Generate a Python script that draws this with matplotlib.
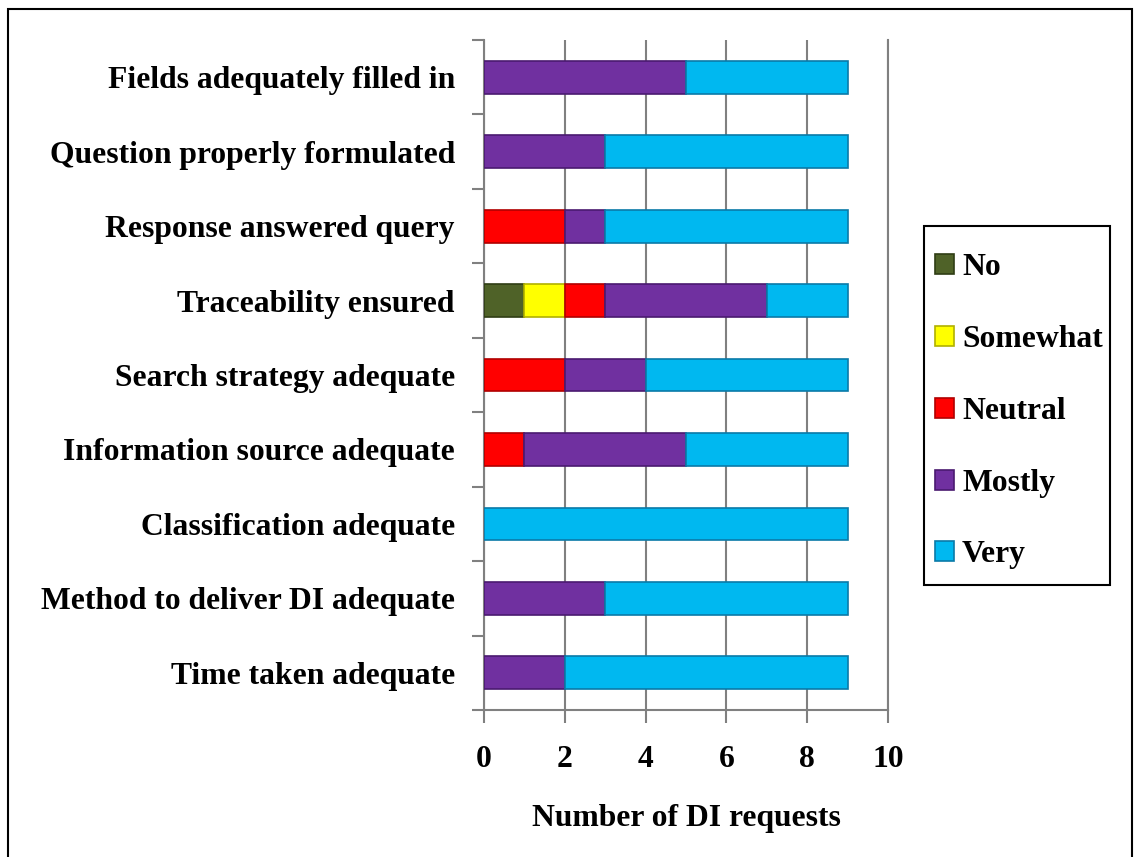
import numpy as np
import matplotlib
matplotlib.use("Agg")
import matplotlib.pyplot as plt
from matplotlib.patches import Rectangle

plt.rcParams["font.family"] = ["Liberation Serif", "DejaVu Serif"]
plt.rcParams["font.weight"] = "bold"

categories = [
    "Fields adequately filled in",
    "Question properly formulated",
    "Response answered query",
    "Traceability ensured",
    "Search strategy adequate",
    "Information source adequate",
    "Classification adequate",
    "Method to deliver DI adequate",
    "Time taken adequate",
]
levels = ["No", "Somewhat", "Neutral", "Mostly", "Very"]
no       = [0, 0, 0, 1, 0, 0, 0, 0, 0]
somewhat = [0, 0, 0, 1, 0, 0, 0, 0, 0]
neutral  = [0, 0, 2, 1, 2, 1, 0, 0, 0]
mostly   = [5, 3, 1, 4, 2, 4, 0, 3, 2]
very     = [4, 6, 6, 2, 5, 4, 9, 6, 7]
x_ticks = [0, 2, 4, 6, 8, 10]

series = [no, somewhat, neutral, mostly, very]
colors = ["#4f6228", "#ffff00", "#ff0000", "#7030a0", "#00b8f0"]
edges = ["#2f3d14", "#b0b000", "#b00000", "#4a1a70", "#0a7aa8"]

FS = 22.8

fig = plt.figure(figsize=(11.38, 8.57), dpi=100)
ax = fig.add_axes([0.4253, 0.1715, 0.3550, 0.7818])

y = np.arange(len(categories))[::-1]
left = np.zeros(len(categories))
for vals, lab, c, ec in zip(series, levels, colors, edges):
    vals = np.array(vals, dtype=float)
    ax.barh(y, vals, left=left, height=0.44, color=c, edgecolor=ec,
            linewidth=1.2, label=lab, zorder=3)
    left += vals

ax.set_xlim(0, 10)
ax.set_ylim(-0.5, len(categories) - 0.5)
ax.set_xticks(x_ticks)
ax.set_xticklabels([str(t) for t in x_ticks], fontsize=FS, fontweight="bold")
ax.set_yticks(y)
ax.set_yticklabels(categories, fontsize=FS, fontweight="bold")
ax.set_yticks(np.arange(len(categories) + 1) - 0.5, minor=True)
ax.tick_params(axis="y", which="major", length=0, pad=21)
ax.tick_params(axis="y", which="minor", length=9, color="#808080", width=1.5)
ax.tick_params(axis="x", length=9, color="#808080", width=1.5, pad=16)

ax.grid(axis="x", color="#808080", linewidth=1.5, zorder=0)
for side in ["left", "bottom", "right"]:
    ax.spines[side].set_color("#808080")
    ax.spines[side].set_linewidth(1.5)
ax.spines["top"].set_visible(False)

ax.set_xlabel("Number of DI requests", fontsize=FS, fontweight="bold", labelpad=22)

# legend box drawn separately so its size matches the original
box_x, box_y, box_w, box_h = 0.812, 0.3174, 0.1634, 0.4189
handles, labels = ax.get_legend_handles_labels()
leg = fig.legend(handles, labels, loc="center left",
                 bbox_to_anchor=(box_x, box_y + box_h / 2 - 0.007),
                 borderaxespad=0, frameon=False, borderpad=0.35,
                 labelspacing=1.35, handlelength=0.6, handleheight=0.6,
                 handletextpad=0.25, prop={"weight": "bold", "size": FS})
fig.patches.append(Rectangle((box_x, box_y), box_w, box_h, transform=fig.transFigure,
                             fill=False, edgecolor="black", linewidth=1.5))

fig.patches.append(Rectangle((0.007, -0.01), 0.988, 1.0, transform=fig.transFigure,
                             fill=False, edgecolor="black", linewidth=1.5))

fig.savefig("out.png", dpi=100)
